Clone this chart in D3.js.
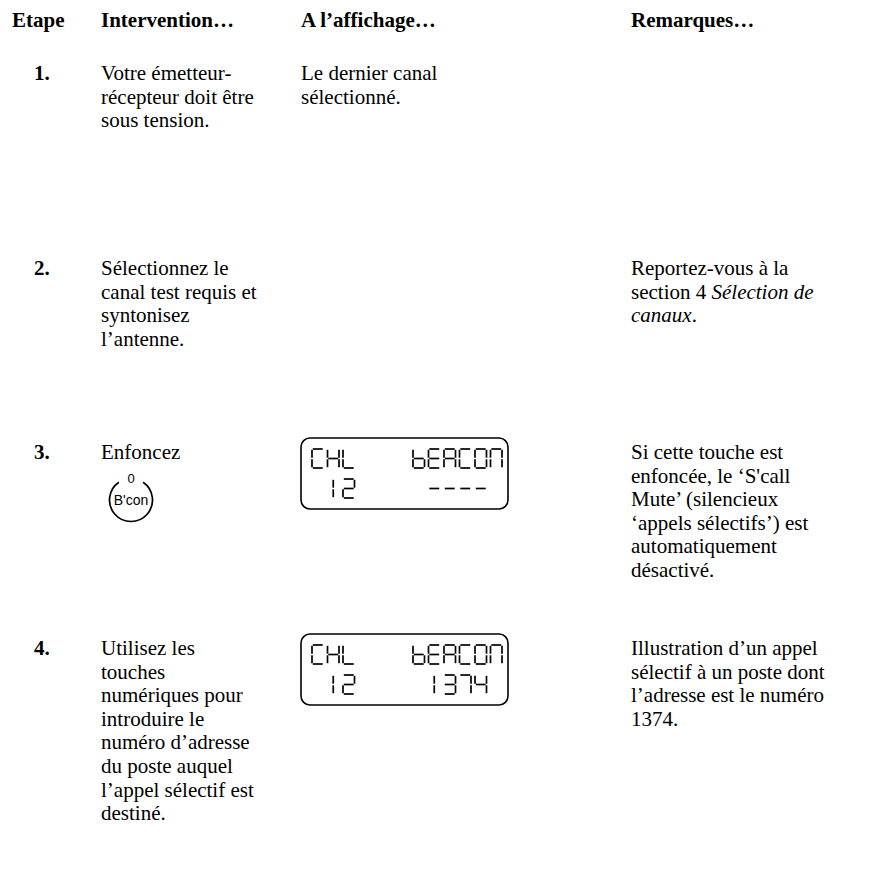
<!DOCTYPE html>
<html><head><meta charset="utf-8">
<script src="https://cdn.jsdelivr.net/npm/d3@7"></script>
<style>html,body{margin:0;padding:0;background:#fff;}svg{display:block;}</style>
</head><body>
<script>
// ---- data ----
const headers = ["Etape", "Intervention…", "A l’affichage…", "Remarques…"];
const steps = ["1.", "2.", "3.", "4."];
const interventionLines = [
  ["Votre émetteur-", "récepteur doit être", "sous tension."],
  ["Sélectionnez le", "canal test requis et", "syntonisez", "l’antenne."],
  ["Enfoncez"],
  ["Utilisez les", "touches", "numériques pour", "introduire le", "numéro d’adresse", "du poste auquel", "l’appel sélectif est", "destiné."]
];
const displayLines = [
  ["Le dernier canal", "sélectionné."], [], [], []
];
const remarkLines = [
  [],
  [[["Reportez-vous à la", 0]], [["section 4 ", 0], ["Sélection de", 1]], [["canaux", 1], [".", 0]]],
  [[["Si cette touche est", 0]], [["enfoncée, le ‘S'call", 0]], [["Mute’ (silencieux", 0]], [["‘appels sélectifs’) est", 0]], [["automatiquement", 0]], [["désactivé.", 0]]],
  [[["Illustration d’un appel", 0]], [["sélectif à un poste dont", 0]], [["l’adresse est le numéro", 0]], [["1374.", 0]]]
];
const buttonStep = "3.";
const buttonLabel = "B'con";
const buttonKey = "0";
const lcdSteps = ["3.", "4."];
const lcdTopLeft = ["CHL", "CHL"];
const lcdTopRight = ["bEACON", "bEACON"];
const lcdBottomLeft = [" 12", " 12"];
const lcdBottomRight = ["----", "1374"];

// ---- layout ----
const W = 885, H = 871;
const svg = d3.select("body").append("svg").attr("width", W).attr("height", H);
svg.append("rect").attr("width", W).attr("height", H).attr("fill", "#fff");

const serif = "'Liberation Serif','Times New Roman',serif";
const sans = "'Liberation Sans',Arial,sans-serif";
const fs = 21, lh = 23.6;

const colX = d3.scaleOrdinal().domain(headers).range([12, 101, 301, 631]);
const rowY = d3.scaleOrdinal().domain(steps).range([80, 275, 459, 655]);
const headerY = 27;

svg.selectAll("text.hdr").data(headers).join("text").attr("class", "hdr")
  .attr("x", d => colX(d)).attr("y", headerY)
  .attr("font-family", serif).attr("font-size", fs).attr("font-weight", "bold")
  .text(d => d);

svg.selectAll("text.step").data(steps).join("text").attr("class", "step")
  .attr("x", 34).attr("y", d => rowY(d))
  .attr("font-family", serif).attr("font-size", fs).attr("font-weight", "bold")
  .text(d => d);

function block(linesArr, col) {
  linesArr.forEach((lines, i) => {
    const y0 = rowY(steps[i]);
    svg.append("g").selectAll("text").data(lines).join("text")
      .attr("x", colX(headers[col])).attr("y", (d, j) => y0 + j * lh)
      .attr("font-family", serif).attr("font-size", fs)
      .text(d => d);
  });
}
block(interventionLines, 1);
block(displayLines, 2);

remarkLines.forEach((lines, i) => {
  const y0 = rowY(steps[i]);
  const t = svg.append("g").selectAll("text").data(lines).join("text")
    .attr("x", colX(headers[3])).attr("y", (d, j) => y0 + j * lh)
    .attr("font-family", serif).attr("font-size", fs);
  t.selectAll("tspan").data(d => d).join("tspan")
    .attr("font-style", d => d[1] ? "italic" : "normal")
    .text(d => d[0]);
});

// button
{
  const cx = 131, cy = rowY(buttonStep) + 41, r = 21.5;
  const gap = 0.6;
  const arc = d3.arc().innerRadius(r).outerRadius(r).startAngle(gap).endAngle(2 * Math.PI - gap);
  svg.append("path").attr("d", arc()).attr("transform", `translate(${cx},${cy})`)
    .attr("fill", "none").attr("stroke", "#000").attr("stroke-width", 1.7);
  svg.append("text").attr("x", cx).attr("y", cy - r + 4).attr("text-anchor", "middle")
    .attr("font-family", sans).attr("font-size", 13).text(buttonKey);
  svg.append("text").attr("x", cx).attr("y", cy + 5).attr("text-anchor", "middle")
    .attr("font-family", sans).attr("font-size", 14).text(buttonLabel);
}

// LCD
const SEG = { C: "afed", H: "fbecg", L: "fed", b: "fedcg", E: "afged", A: "abcefg", O: "abcdef", N: "abcef",
  "1": "mn", "2": "abged", "3": "abgcd", "7": "abc", "4": "fgbc", "-": "g", " ": "" };
function segLines(x, y, w, h, s) {
  const g = 0.8, m = h / 2;
  const L = {
    a: [x + g, y, x + w - g, y], b: [x + w, y + g, x + w, y + m - g], c: [x + w, y + m + g, x + w, y + h - g],
    d: [x + g, y + h, x + w - g, y + h], e: [x, y + m + g, x, y + h - g], f: [x, y + g, x, y + m - g],
    g: [x + g, y + m, x + w - g, y + m], m: [x + w / 2, y + g, x + w / 2, y + m - g], n: [x + w / 2, y + m + g, x + w / 2, y + h - g]
  };
  return s.split("").map(k => L[k]);
}
const boxW = 207, boxH = 71, cw = 11.5, ch = 19, pitch = 15.5, padL = 11, padR = 6;
lcdSteps.forEach((st, i) => {
  const bx = colX(headers[2]), by = rowY(st) - 21;
  const g = svg.append("g");
  g.append("rect").attr("x", bx).attr("y", by).attr("width", boxW).attr("height", boxH)
    .attr("rx", 9).attr("fill", "none").attr("stroke", "#000").attr("stroke-width", 1.6);
  const leftX = d3.scaleLinear().domain([0, 1]).range([bx + padL, bx + padL + pitch]);
  const rightX = d3.scaleLinear().domain([5, 6]).range([bx + boxW - padR - cw, bx + boxW - padR - cw + pitch]);
  const lineY = d3.scaleOrdinal().domain([0, 1]).range([by + 11, by + 41]);
  const items = [];
  lcdTopLeft[i].split("").forEach((c, k) => items.push([c, leftX(k), lineY(0)]));
  lcdTopRight[i].split("").forEach((c, k) => items.push([c, rightX(k), lineY(0)]));
  lcdBottomLeft[i].split("").forEach((c, k) => items.push([c, leftX(k), lineY(1)]));
  lcdBottomRight[i].split("").forEach((c, k) => items.push([c, rightX(k + 1), lineY(1)]));
  const segs = items.flatMap(([c, x, y]) => segLines(x, y, cw, ch, SEG[c] || ""));
  g.selectAll("line").data(segs).join("line")
    .attr("x1", d => d[0]).attr("y1", d => d[1]).attr("x2", d => d[2]).attr("y2", d => d[3])
    .attr("stroke", "#000").attr("stroke-width", 1.7);
});
</script>
</body></html>
